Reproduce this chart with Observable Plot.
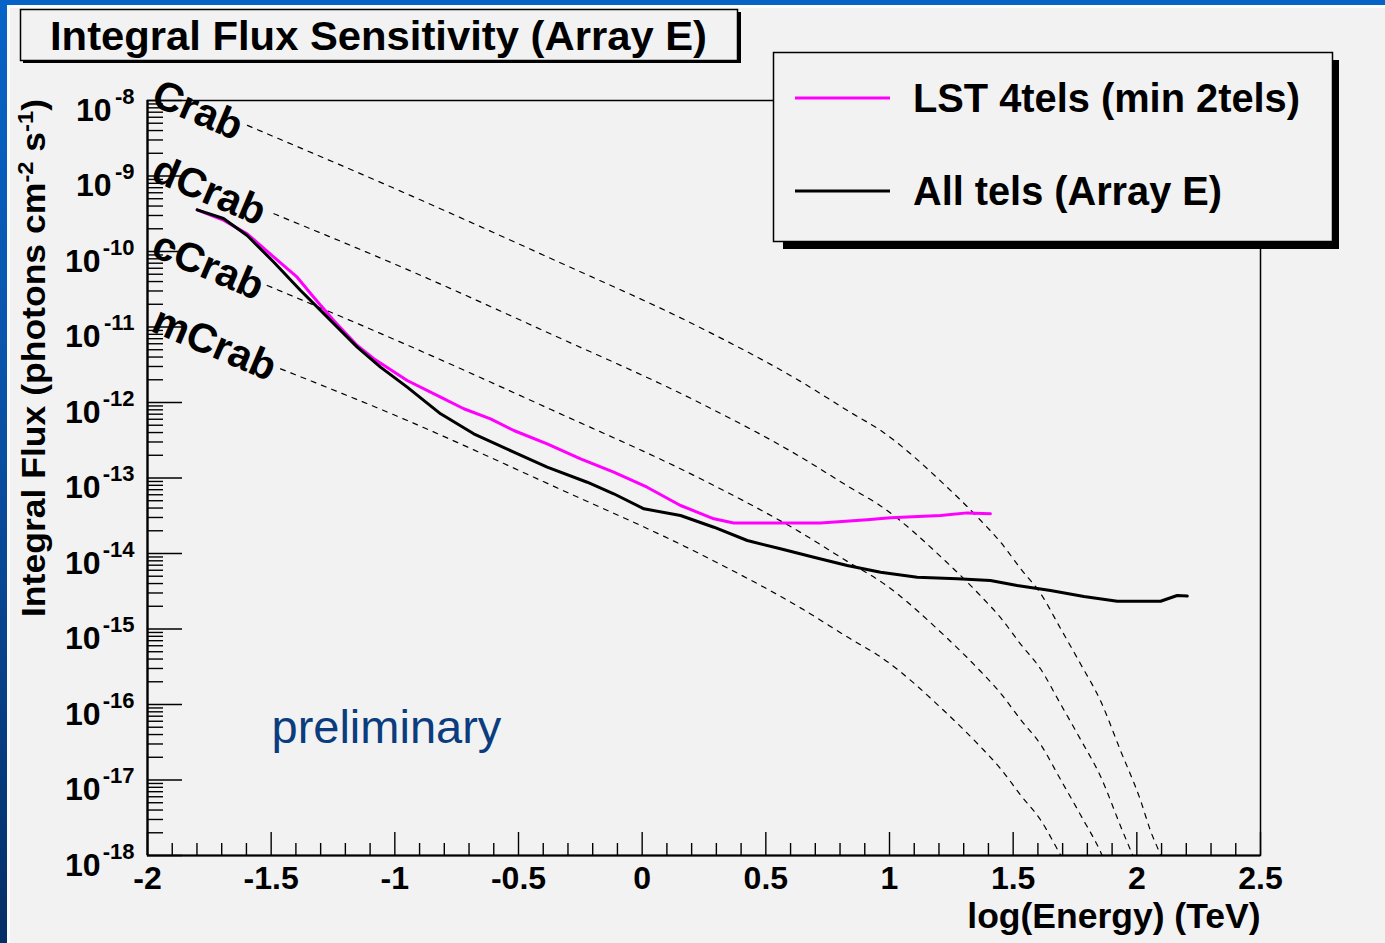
<!DOCTYPE html>
<html><head><meta charset="utf-8">
<script src="https://cdn.jsdelivr.net/npm/d3@7"></script>
<script src="https://cdn.jsdelivr.net/npm/@observablehq/plot@0.6"></script>
<style>
html,body{margin:0;padding:0;}
body{width:1385px;height:943px;overflow:hidden;position:relative;
  background:linear-gradient(180deg,#0764c6 0%,#0a56ae 35%,#08428a 70%,#052e66 100%);
  font-family:"Liberation Sans",Arial,sans-serif;}
#panel{position:absolute;left:7px;top:5px;width:1378px;height:938px;background:#f2f2f2;
  box-shadow: inset 3px 3px 0 #fcfcfc;}
#chart{position:absolute;left:0;top:0;}
</style></head><body>
<div id="panel"></div>
<div id="chart"></div>
<script>
// ---------- data (log10 of energy in TeV, log10 of integral flux in cm^-2 s^-1) ----------
const xTickLabels = [-2, -1.5, -1, -0.5, 0, 0.5, 1, 1.5, 2, 2.5];
const yTickExponents = [-8, -9, -10, -11, -12, -13, -14, -15, -16, -17, -18];

const seriesNames = ["LST 4tels (min 2tels)", "All tels (Array E)"];

const lstLogE = [-1.799,-1.691,-1.597,-1.489,-1.395,-1.328,-1.247,-1.152,-1.085,-0.950,-0.815,-0.721,-0.613,-0.519,-0.384,-0.249,-0.115,0.020,0.155,0.290,0.370,0.721,0.910,1.004,1.206,1.314,1.408];
const lstLogF = [-9.448,-9.589,-9.766,-10.075,-10.340,-10.605,-10.914,-11.245,-11.421,-11.709,-11.930,-12.083,-12.216,-12.371,-12.547,-12.746,-12.923,-13.122,-13.364,-13.540,-13.597,-13.597,-13.554,-13.527,-13.497,-13.462,-13.474];

const allLogE = [-1.799,-1.693,-1.597,-1.489,-1.381,-1.273,-1.152,-1.058,-0.950,-0.815,-0.681,-0.519,-0.384,-0.222,-0.115,0.007,0.155,0.290,0.425,0.559,0.694,0.829,0.964,1.112,1.274,1.408,1.516,1.651,1.786,1.921,2.096,2.163,2.204];
const allLogF = [-9.448,-9.563,-9.788,-10.142,-10.517,-10.870,-11.266,-11.532,-11.797,-12.150,-12.415,-12.658,-12.857,-13.056,-13.209,-13.408,-13.497,-13.652,-13.828,-13.938,-14.049,-14.159,-14.248,-14.314,-14.335,-14.358,-14.424,-14.490,-14.570,-14.632,-14.632,-14.556,-14.564];

// Crab reference curves
const refNames = ["Crab", "dCrab", "cCrab", "mCrab"];
const refStartLogE = [-1.596, -1.489, -1.516, -1.462];
const refStartLogF = [-8.33, -9.50, -10.45, -11.554];
const refLogE = [-0.977,-0.371,0.236,0.640,0.842,0.964,1.226,1.368,1.449,1.530,1.611,1.691,1.772,1.853,1.934,2.015,2.055,2.096,2.136];
const crabLogF  = [-9.20,-10.09,-11.01,-11.72,-12.13,-12.37,-13.10,-13.56,-13.85,-14.20,-14.53,-14.99,-15.46,-15.95,-16.61,-17.27,-17.67,-18.00,-18.40];
const dCrabLogF = [-10.20,-11.09,-12.01,-12.72,-13.13,-13.37,-14.10,-14.56,-14.85,-15.20,-15.53,-15.99,-16.46,-16.95,-17.61,-18.27,-18.67,-19.00,-19.40];
const cCrabLogF = [-11.20,-12.09,-13.01,-13.72,-14.13,-14.37,-15.10,-15.56,-15.85,-16.20,-16.53,-16.99,-17.46,-17.95,-18.61,-19.27,-19.67,-20.00,-20.40];
const mCrabLogF = [-12.20,-13.09,-14.01,-14.72,-15.13,-15.37,-16.10,-16.56,-16.85,-17.20,-17.53,-17.99,-18.46,-18.95,-19.61,-20.27,-20.67,-21.00,-21.40];

// ---------- tables ----------
const refFluxes = [crabLogF, dCrabLogF, cCrabLogF, mCrabLogF];
const refRows = refNames.flatMap((name, k) => [
  {name, e: refStartLogE[k], f: 10 ** refStartLogF[k]},
  ...refLogE.map((e, i) => ({name, e, f: 10 ** refFluxes[k][i]}))
]);
const lstRows = lstLogE.map((e, i) => ({e, f: 10 ** lstLogF[i]}));
const allRows = allLogE.map((e, i) => ({e, f: 10 ** allLogF[i]}));

const xMinor = d3.range(-20, 26).map(i => i / 10).filter(v => Math.abs(v * 2 - Math.round(v * 2)) > 1e-6);
const yMinor = d3.range(-18, -8).flatMap(n => d3.range(2, 10).map(k => k * 10 ** n));
const yMajor = yTickExponents.map(e => 10 ** e);
const yExp1 = yTickExponents.filter(e => e > -10);
const yExp2 = yTickExponents.filter(e => e <= -10);

// ---------- layout ----------
const W = 1385, H = 943, mL = 147, mR = 125, mT = 100, mB = 88;
const fw = W - mL - mR, fh = H - mT - mB;
const FONT = "Liberation Sans, Arial, Helvetica, sans-serif";

const chart = Plot.plot({
  width: W, height: H, marginLeft: mL, marginRight: mR, marginTop: mT, marginBottom: mB,
  style: {background: "transparent", fontFamily: FONT, color: "black", overflow: "visible"},
  x: {domain: [-2, 2.5], axis: null},
  y: {type: "log", domain: [1e-18, 1e-8], axis: null},
  marks: [
    Plot.ruleX(xMinor, {stroke: "black", strokeWidth: 1.4, insetTop: fh - 12}),
    Plot.ruleX(xTickLabels, {stroke: "black", strokeWidth: 1.4, insetTop: fh - 23}),
    Plot.ruleY(yMinor, {stroke: "black", strokeWidth: 1.4, insetRight: fw - 16}),
    Plot.ruleY(yMajor, {stroke: "black", strokeWidth: 1.4, insetRight: fw - 35}),
    Plot.frame({stroke: "black", strokeWidth: 1.5}),
    Plot.ruleX([-2], {stroke: "black", strokeWidth: 2.2}),
    Plot.ruleY([1e-18], {stroke: "black", strokeWidth: 2.2}),
    Plot.axisX({ticks: xTickLabels, tickSize: 0, tickPadding: 11, tickFormat: d => String(d),
      fontSize: 32, fontWeight: "bold", label: null, anchor: "bottom"}),
    // y tick labels 10^n
    Plot.text(yTickExponents, {y: e => 10 ** e, frameAnchor: "left", text: e => String(e),
      textAnchor: "end", lineAnchor: "bottom", dx: -13, dy: 3, fontSize: 22, fontWeight: "bold"}),
    Plot.text(yExp1, {y: e => 10 ** e, frameAnchor: "left", text: () => "10",
      textAnchor: "end", lineAnchor: "bottom", dx: -36, dy: 20, fontSize: 32, fontWeight: "bold"}),
    Plot.text(yExp2, {y: e => 10 ** e, frameAnchor: "left", text: () => "10",
      textAnchor: "end", lineAnchor: "bottom", dx: -47, dy: 20, fontSize: 32, fontWeight: "bold"}),
    // Crab reference curves
    Plot.line(refRows, {x: "e", y: "f", z: "name", stroke: "black", strokeWidth: 1.2,
      strokeDasharray: "5,6", curve: "monotone-x", clip: true}),
    Plot.text(refNames, {frameAnchor: "left", y: (d, i) => 10 ** (-8.05 - i), dx: 2,
      text: d => d, rotate: 23, textAnchor: "start", lineAnchor: "bottom",
      fontSize: 41, fontWeight: "bold", fill: "black"}),
    // sensitivity curves
    Plot.line(lstRows, {x: "e", y: "f", stroke: "#ff00ff", strokeWidth: 3}),
    Plot.line(allRows, {x: "e", y: "f", stroke: "black", strokeWidth: 3}),
    Plot.text(["preliminary"], {frameAnchor: "bottom-left", dx: 124, dy: -113, text: d => d,
      textAnchor: "start", lineAnchor: "bottom", fontSize: 47, fontWeight: "normal", fill: "#0b3d7e"}),
    Plot.text(["log(Energy) (TeV)"], {frameAnchor: "bottom-right", dy: 72, text: d => d,
      textAnchor: "end", lineAnchor: "bottom", fontSize: 35.5, fontWeight: "bold"})
  ]
});
document.getElementById("chart").appendChild(chart);

// ---------- decorations: y title, title box, legend ----------
const svg = d3.select(chart);
const yt = svg.append("text")
  .attr("transform", "translate(45,99) rotate(-90)")
  .attr("text-anchor", "end")
  .attr("font-family", FONT).attr("font-weight", "bold").attr("font-size", 33)
  .attr("textLength", 518).attr("lengthAdjust", "spacingAndGlyphs")
  .attr("fill", "black");
yt.append("tspan").text("Integral Flux (photons cm");
yt.append("tspan").attr("dy", -12).attr("font-size", 22).text("-2");
yt.append("tspan").attr("dy", 12).text(" s");
yt.append("tspan").attr("dy", -12).attr("font-size", 22).text("-1");
yt.append("tspan").attr("dy", 12).text(")");

const tg = svg.append("g").attr("text-anchor", "start");
tg.append("rect").attr("x", 23).attr("y", 12).attr("width", 718).attr("height", 51).attr("fill", "black");
tg.append("rect").attr("x", 20.5).attr("y", 9.5).attr("width", 717).attr("height", 51)
  .attr("fill", "#f2f2f2").attr("stroke", "black").attr("stroke-width", 1.5);
tg.append("text").attr("x", 50).attr("y", 50).attr("text-anchor", "start")
  .attr("font-family", FONT).attr("font-weight", "bold").attr("font-size", 41)
  .attr("textLength", 657).attr("lengthAdjust", "spacingAndGlyphs")
  .text("Integral Flux Sensitivity (Array E)");

const lg = svg.append("g").attr("text-anchor", "start");
lg.append("rect").attr("x", 783).attr("y", 60).attr("width", 556).attr("height", 189).attr("fill", "black");
lg.append("rect").attr("x", 773.5).attr("y", 52.5).attr("width", 559).attr("height", 189)
  .attr("fill", "#f2f2f2").attr("stroke", "black").attr("stroke-width", 1.5);
const legendColors = ["#ff00ff", "black"];
const legendY = [98, 191];
const legendLen = [387, 309];
seriesNames.forEach((name, i) => {
  lg.append("line").attr("x1", 795).attr("x2", 890).attr("y1", legendY[i]).attr("y2", legendY[i])
    .attr("stroke", legendColors[i]).attr("stroke-width", 3);
  lg.append("text").attr("x", 913).attr("y", legendY[i] + 14).attr("text-anchor", "start")
    .attr("font-family", FONT).attr("font-weight", "bold").attr("font-size", 40)
    .attr("textLength", legendLen[i]).attr("lengthAdjust", "spacingAndGlyphs")
    .text(name);
});
</script></body></html>
